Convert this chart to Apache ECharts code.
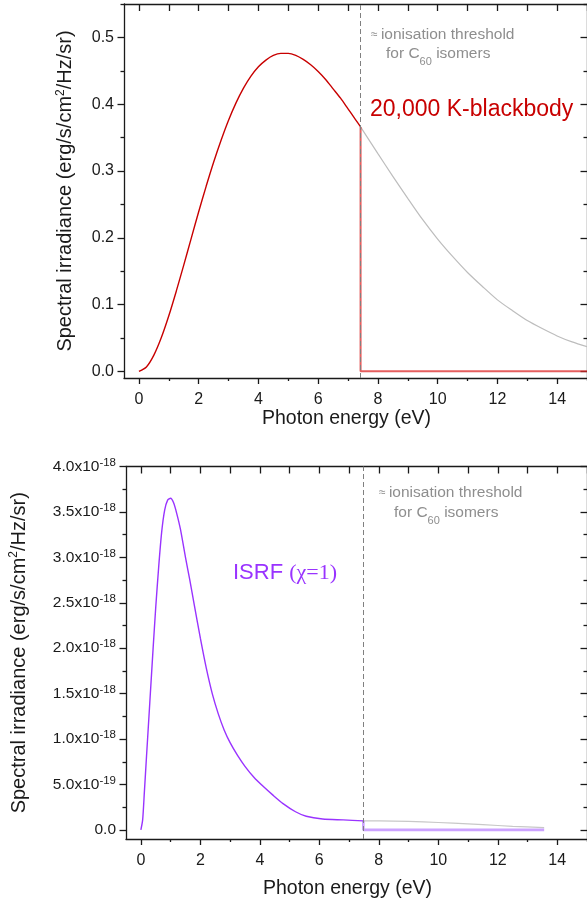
<!DOCTYPE html>
<html>
<head>
<meta charset="utf-8">
<script src="https://cdn.jsdelivr.net/npm/echarts@6/dist/echarts.min.js"></script>
<style>
  html, body { margin: 0; padding: 0; background: #fff; }
  #chart { width: 587px; height: 901px; }
</style>
</head>
<body>
<div id="chart"></div>
<script>
// ---- data ----
// top panel: 20,000 K blackbody (erg/s/cm2/Hz/sr)
const bbEnergy = [0, 0.25, 0.5, 0.75, 1, 1.25, 1.5, 1.75, 2, 2.25, 2.5, 2.75, 3, 3.25, 3.5, 3.75, 4, 4.25, 4.5, 4.75, 5, 5.25, 5.5, 5.75, 6, 6.25, 6.5, 6.75, 7, 7.25, 7.42];
const bbValue  = [0, 0.0066, 0.0243, 0.0506, 0.0832, 0.120, 0.159, 0.199, 0.239, 0.277, 0.313, 0.346, 0.376, 0.402, 0.424, 0.442, 0.456, 0.466, 0.473, 0.476, 0.476, 0.473, 0.467, 0.459, 0.449, 0.437, 0.423, 0.409, 0.393, 0.377, 0.366];
const bbTailEnergy = [7.42, 8, 8.5, 9, 9.5, 10, 10.5, 11, 11.5, 12, 12.5, 13, 13.5, 14, 14.5, 15];
const bbTailValue  = [0.366, 0.326, 0.292, 0.259, 0.227, 0.198, 0.172, 0.148, 0.127, 0.107, 0.091, 0.076, 0.064, 0.053, 0.044, 0.037];
const bbCutEnergy = [7.42, 7.42, 15];
const bbCutValue  = [0.366, 0, 0];
const bbThreshold = 7.42;

// bottom panel: ISRF (chi=1), values in units of 1e-18 erg/s/cm2/Hz/sr
const isrfEnergy = [0, 0.06, 0.12, 0.19, 0.3, 0.41, 0.5, 0.6, 0.7, 0.8, 0.9, 1.0, 1.1, 1.2, 1.33, 1.5, 1.64, 1.8, 2.0, 2.2, 2.4, 2.6, 2.8, 3.0, 3.25, 3.5, 3.8, 4.11, 4.45, 4.78, 5.2, 5.56, 6.11, 6.8, 7.48];
const isrfValue  = [0, 0.11, 0.43, 0.81, 1.40, 1.99, 2.45, 2.9, 3.28, 3.52, 3.63, 3.65, 3.6, 3.49, 3.31, 3.0, 2.76, 2.47, 2.11, 1.78, 1.50, 1.28, 1.10, 0.96, 0.82, 0.70, 0.58, 0.48, 0.38, 0.29, 0.2, 0.15, 0.12, 0.11, 0.10];
const isrfTailEnergy = [7.48, 8.5, 9.5, 10.5, 11.5, 12.5, 13.56];
const isrfTailValue  = [0.10, 0.097, 0.088, 0.075, 0.058, 0.040, 0.025];
const isrfCutEnergy = [7.48, 7.48, 13.56];
const isrfCutValue  = [0.10, 0, 0];
const isrfThreshold = 7.48;

// ---- ticks ----
const energyMajorTicks = [0, 2, 4, 6, 8, 10, 12, 14];
const energyMinorTicks = [1, 3, 5, 7, 9, 11, 13, 15];
const energyTopTicks = [0, 1, 2, 3, 4, 5, 6, 7, 8, 9, 10, 11, 12, 13, 14, 15];
const bbMajorTicks = [0, 0.1, 0.2, 0.3, 0.4, 0.5];
const bbMinorTicks = [0.05, 0.15, 0.25, 0.35, 0.45, 0.55];
const isrfMajorTicks = [0, 0.5, 1, 1.5, 2, 2.5, 3, 3.5, 4];
const isrfMinorTicks = [0.25, 0.75, 1.25, 1.75, 2.25, 2.75, 3.25, 3.75];

const FONT = 'Liberation Sans, Arial, Helvetica, sans-serif';
const INK = '#1a1a1a';
const RED = '#c80000';
const PURPLE = '#9933ff';
const GREY_TXT = '#8e8e8e';

function pairs(xs, ys) { return xs.map((x, i) => [x, ys[i]]); }

const lineSt = { color: INK, width: 1.3 };

function xAxesFor(grid, nameGap) {
  const base = { type: 'value', gridIndex: grid, min: -0.5, max: 15, splitLine: { show: false } };
  return [
    Object.assign({}, base, {
      position: 'bottom',
      axisLine: { show: true, onZero: false, lineStyle: lineSt },
      axisTick: { show: true, inside: false, length: 6, customValues: energyMajorTicks, lineStyle: lineSt },
      axisLabel: { show: true, customValues: energyMajorTicks, margin: 14, fontSize: 16, color: INK, fontFamily: FONT },
      name: 'Photon energy (eV)', nameLocation: 'middle', nameGap: nameGap,
      nameTextStyle: { fontSize: 19.5, color: INK, fontFamily: FONT, padding: [0, 18, 0, 0] }
    }),
    Object.assign({}, base, {
      position: 'bottom',
      axisLine: { show: false, onZero: false },
      axisTick: { show: true, inside: false, length: 3, customValues: energyMinorTicks, lineStyle: lineSt },
      axisLabel: { show: false }
    }),
    Object.assign({}, base, {
      position: 'top',
      axisLine: { show: true, onZero: false, lineStyle: lineSt },
      axisTick: { show: true, inside: true, length: 7, customValues: energyTopTicks, lineStyle: lineSt },
      axisLabel: { show: false }
    })
  ];
}

function yAxesFor(grid, min, max, major, minor, label, nameGap) {
  const base = { type: 'value', gridIndex: grid, min: min, max: max, splitLine: { show: false } };
  return [
    Object.assign({}, base, {
      position: 'left',
      axisLine: { show: true, onZero: false, lineStyle: lineSt },
      axisTick: { show: true, inside: false, length: 6.5, customValues: major, lineStyle: lineSt },
      axisLabel: Object.assign({ show: true, customValues: major, margin: 10, fontSize: 16, color: INK, fontFamily: FONT }, label),
      name: '{a|Spectral irradiance (erg/s/cm}{s|2}{a|/Hz/sr)}',
      nameLocation: 'middle', nameGap: nameGap,
      nameTextStyle: {
        color: INK, fontFamily: FONT,
        rich: {
          a: { fontSize: 20, color: INK, fontFamily: FONT, lineHeight: 22 },
          s: { fontSize: 12, color: INK, fontFamily: FONT, verticalAlign: 'top', lineHeight: 12 }
        }
      }
    }),
    Object.assign({}, base, {
      position: 'left',
      axisLine: { show: false, onZero: false },
      axisTick: { show: true, inside: false, length: 3.5, customValues: minor, lineStyle: lineSt },
      axisLabel: { show: false }
    }),
    Object.assign({}, base, {
      position: 'right',
      axisLine: { show: true, onZero: false, lineStyle: lineSt },
      axisTick: { show: true, inside: true, length: 6.5, customValues: major, lineStyle: lineSt },
      axisLabel: { show: false }
    }),
    Object.assign({}, base, {
      position: 'right',
      axisLine: { show: false, onZero: false },
      axisTick: { show: true, inside: true, length: 3.5, customValues: minor, lineStyle: lineSt },
      axisLabel: { show: false }
    })
  ];
}

// 1e-18 units -> "3.5x10^-18" with superscript
function sciLabel(v) {
  if (Math.abs(v) < 1e-12) return '{b|0.0}';
  const val = v * 1e-18;
  const exp = Math.floor(Math.log10(val) + 1e-9);
  const mant = val / Math.pow(10, exp);
  return '{b|' + mant.toFixed(1) + 'x10}{s|' + exp + '}';
}

const bbLabel = { formatter: v => v.toFixed(1) };
const isrfLabel = {
  formatter: sciLabel,
  rich: {
    b: { fontSize: 15.5, color: INK, fontFamily: FONT, lineHeight: 20 },
    s: { fontSize: 11.5, color: INK, fontFamily: FONT, verticalAlign: 'top', lineHeight: 12 }
  }
};

const chart = echarts.init(document.getElementById('chart'), null, { renderer: 'canvas' });

const option = {
  animation: false,
  backgroundColor: '#fff',
  grid: [
    { left: 124, top: 4, width: 465, height: 374 },
    { left: 124, top: 466.5, width: 465, height: 372.5 }
  ],
  xAxis: xAxesFor(0, 31).concat(xAxesFor(1, 39.5)),
  yAxis: yAxesFor(0, -0.01, 0.55, bbMajorTicks, bbMinorTicks, bbLabel, 47.5)
    .concat(yAxesFor(1, -0.1, 4.0, isrfMajorTicks, isrfMinorTicks, isrfLabel, 96)),
  series: [
    {
      name: 'blackbody (full)', type: 'line', xAxisIndex: 0, yAxisIndex: 0,
      data: pairs(bbTailEnergy, bbTailValue), smooth: 0.25, showSymbol: false, z: 2,
      lineStyle: { color: '#bdbdbd', width: 1.2 },
      markLine: {
        silent: true, symbol: ['none', 'none'], label: { show: false },
        lineStyle: { color: '#808080', type: [5, 3], width: 1 },
        data: [{ xAxis: bbThreshold }]
      }
    },
    {
      name: 'blackbody', type: 'line', xAxisIndex: 0, yAxisIndex: 0,
      data: pairs(bbEnergy, bbValue), smooth: 0.25, showSymbol: false, z: 4,
      lineStyle: { color: RED, width: 1.4 }
    },
    {
      name: 'blackbody cut', type: 'line', xAxisIndex: 0, yAxisIndex: 0,
      data: pairs(bbCutEnergy, bbCutValue), showSymbol: false, z: 3,
      lineStyle: { color: 'rgba(220,40,40,0.75)', width: 2 }
    },
    {
      name: 'ISRF (full)', type: 'line', xAxisIndex: 3, yAxisIndex: 4,
      data: pairs(isrfTailEnergy, isrfTailValue), smooth: 0.25, showSymbol: false, z: 2,
      lineStyle: { color: '#c8c8c8', width: 1.2 },
      markLine: {
        silent: true, symbol: ['none', 'none'], label: { show: false },
        lineStyle: { color: '#808080', type: [5, 3], width: 1 },
        data: [{ xAxis: isrfThreshold }]
      }
    },
    {
      name: 'ISRF', type: 'line', xAxisIndex: 3, yAxisIndex: 4,
      data: pairs(isrfEnergy, isrfValue), smooth: 0.25, showSymbol: false, z: 4,
      lineStyle: { color: PURPLE, width: 1.4 }
    },
    {
      name: 'ISRF cut', type: 'line', xAxisIndex: 3, yAxisIndex: 4,
      data: pairs(isrfCutEnergy, isrfCutValue), showSymbol: false, z: 3,
      lineStyle: { color: 'rgba(170,100,255,0.6)', width: 2.6 }
    }
  ],
  graphic: [
    {
      type: 'text', x: 371, y: 35,
      style: {
        text: '{ap|≈} {t|ionisation threshold}', verticalAlign: 'middle',
        rich: {
          ap: { fontSize: 12, fill: GREY_TXT, fontFamily: FONT },
          t: { fontSize: 15.5, fill: GREY_TXT, fontFamily: FONT }
        }
      }
    },
    {
      type: 'text', x: 386, y: 54,
      style: {
        text: '{t|for C}{sub|60}{t| isomers}', verticalAlign: 'middle',
        rich: {
          t: { fontSize: 15.5, fill: GREY_TXT, fontFamily: FONT, lineHeight: 18 },
          sub: { fontSize: 11, fill: GREY_TXT, fontFamily: FONT, verticalAlign: 'bottom', lineHeight: 11, padding: [0, 0, -4, 0] }
        }
      }
    },
    {
      type: 'text', x: 370, y: 110,
      style: { text: '20,000 K-blackbody', fill: RED, fontSize: 23, fontFamily: FONT, verticalAlign: 'middle' }
    },
    {
      type: 'text', x: 379, y: 493,
      style: {
        text: '{ap|≈} {t|ionisation threshold}', verticalAlign: 'middle',
        rich: {
          ap: { fontSize: 12, fill: GREY_TXT, fontFamily: FONT },
          t: { fontSize: 15.5, fill: GREY_TXT, fontFamily: FONT }
        }
      }
    },
    {
      type: 'text', x: 394, y: 513,
      style: {
        text: '{t|for C}{sub|60}{t| isomers}', verticalAlign: 'middle',
        rich: {
          t: { fontSize: 15.5, fill: GREY_TXT, fontFamily: FONT, lineHeight: 18 },
          sub: { fontSize: 11, fill: GREY_TXT, fontFamily: FONT, verticalAlign: 'bottom', lineHeight: 11, padding: [0, 0, -4, 0] }
        }
      }
    },
    {
      type: 'text', x: 233, y: 573,
      style: {
        text: '{a|ISRF }{b|(χ=1)}', verticalAlign: 'middle',
        rich: {
          a: { fontSize: 22, fill: PURPLE, fontFamily: FONT },
          b: { fontSize: 22, fill: PURPLE, fontFamily: 'Liberation Serif, serif' }
        }
      }
    }
  ]
};

chart.setOption(option);
</script>
</body>
</html>
